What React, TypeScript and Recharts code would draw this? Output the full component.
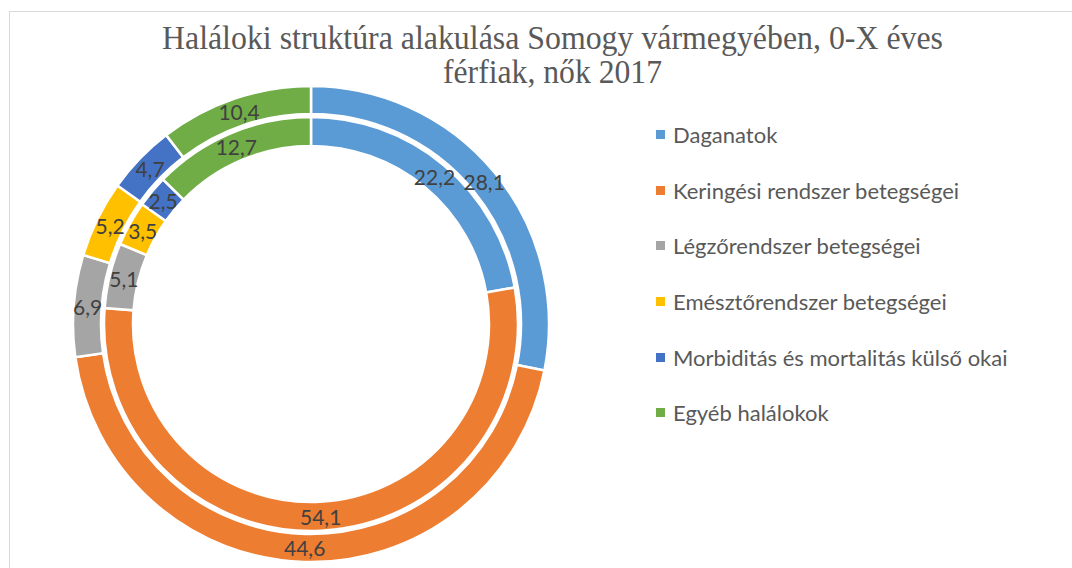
import { Legend, Pie, PieChart } from "recharts"

const categories = [
  "Daganatok",
  "Keringési rendszer betegségei",
  "Légzőrendszer betegségei",
  "Emésztőrendszer betegségei",
  "Morbiditás és mortalitás külső okai",
  "Egyéb halálokok",
]
const colors = ["#5B9BD5", "#ED7D31", "#A5A5A5", "#FFC000", "#4472C4", "#70AD47"]

// outer ring
const outerValues = [28.1, 44.6, 6.9, 5.2, 4.7, 10.4]
// inner ring
const innerValues = [22.2, 54.1, 5.1, 3.5, 2.5, 12.7]

const titleLines = ["Haláloki struktúra alakulása Somogy vármegyében, 0-X éves", "férfiak, nők 2017"]

const outerData = categories.map((name, i) => ({ name, value: outerValues[i], fill: colors[i] }))
const innerData = categories.map((name, i) => ({ name, value: innerValues[i], fill: colors[i] }))

const RAD = Math.PI / 180
const fmt = (v: number) => v.toFixed(1).replace(".", ",")

function renderLabel(props: any) {
  const { cx, cy, midAngle, innerRadius, outerRadius, value } = props
  const r = (innerRadius + outerRadius) / 2
  const x = cx + r * Math.cos(-midAngle * RAD)
  const y = cy + r * Math.sin(-midAngle * RAD)
  return (
    <text
      x={x}
      y={y}
      textAnchor="middle"
      dominantBaseline="central"
      fill="#404040"
      fontSize={21}
      fontFamily="Lato, sans-serif"
    >
      {fmt(value)}
    </text>
  )
}

function LegendBox() {
  return (
    <div style={{ fontFamily: "Lato, sans-serif", fontSize: 22, color: "#595959", whiteSpace: "nowrap" }}>
      {categories.map((c, i) => (
        <div key={c} style={{ height: 55.6, display: "flex", alignItems: "center" }}>
          <span style={{ width: 9, height: 9, background: colors[i], marginRight: 8, display: "inline-block" }} />
          <span>{c}</span>
        </div>
      ))}
    </div>
  )
}

export default function App() {
  return (
    <div
      style={{
        position: "absolute",
        left: 0,
        top: 0,
        width: 1072,
        height: 568,
        overflow: "hidden",
        background: "#fff",
      }}
    >
      <div
        style={{
          position: "absolute",
          left: 9,
          top: 11,
          width: 1120,
          height: 620,
          borderTop: "1px solid #D9D9D9",
          borderLeft: "1px solid #D9D9D9",
        }}
      />
      <svg width={1072} height={100} style={{ position: "absolute", left: 0, top: 0 }}>
        <text
          x={162}
          y={49}
          fontFamily="'Liberation Serif', serif"
          fontSize={33}
          fill="#595959"
          textLength={781}
          lengthAdjust="spacingAndGlyphs"
        >
          {titleLines[0]}
        </text>
        <text
          x={443}
          y={83}
          fontFamily="'Liberation Serif', serif"
          fontSize={33}
          fill="#595959"
          textLength={219}
          lengthAdjust="spacingAndGlyphs"
        >
          {titleLines[1]}
        </text>
      </svg>
      <div style={{ position: "absolute", left: 0, top: 0 }}>
        <PieChart width={1072} height={568} margin={{ top: 0, right: 0, bottom: 0, left: 0 }}>
          <Pie
            data={innerData}
            dataKey="value"
            nameKey="name"
            cx={311}
            cy={324}
            innerRadius={178}
            outerRadius={207}
            startAngle={90}
            endAngle={-270}
            stroke="#fff"
            strokeWidth={2.5}
            label={renderLabel}
            labelLine={false}
            isAnimationActive={false}
          />
          <Pie
            data={outerData}
            dataKey="value"
            nameKey="name"
            cx={311}
            cy={324}
            innerRadius={210}
            outerRadius={238}
            startAngle={90}
            endAngle={-270}
            stroke="#fff"
            strokeWidth={2.5}
            label={renderLabel}
            labelLine={false}
            isAnimationActive={false}
          />
          <Legend
            layout="vertical"
            content={() => <LegendBox />}
            wrapperStyle={{ left: 656, top: 107, width: 410, right: "auto", bottom: "auto" }}
          />
        </PieChart>
      </div>
    </div>
  )
}
